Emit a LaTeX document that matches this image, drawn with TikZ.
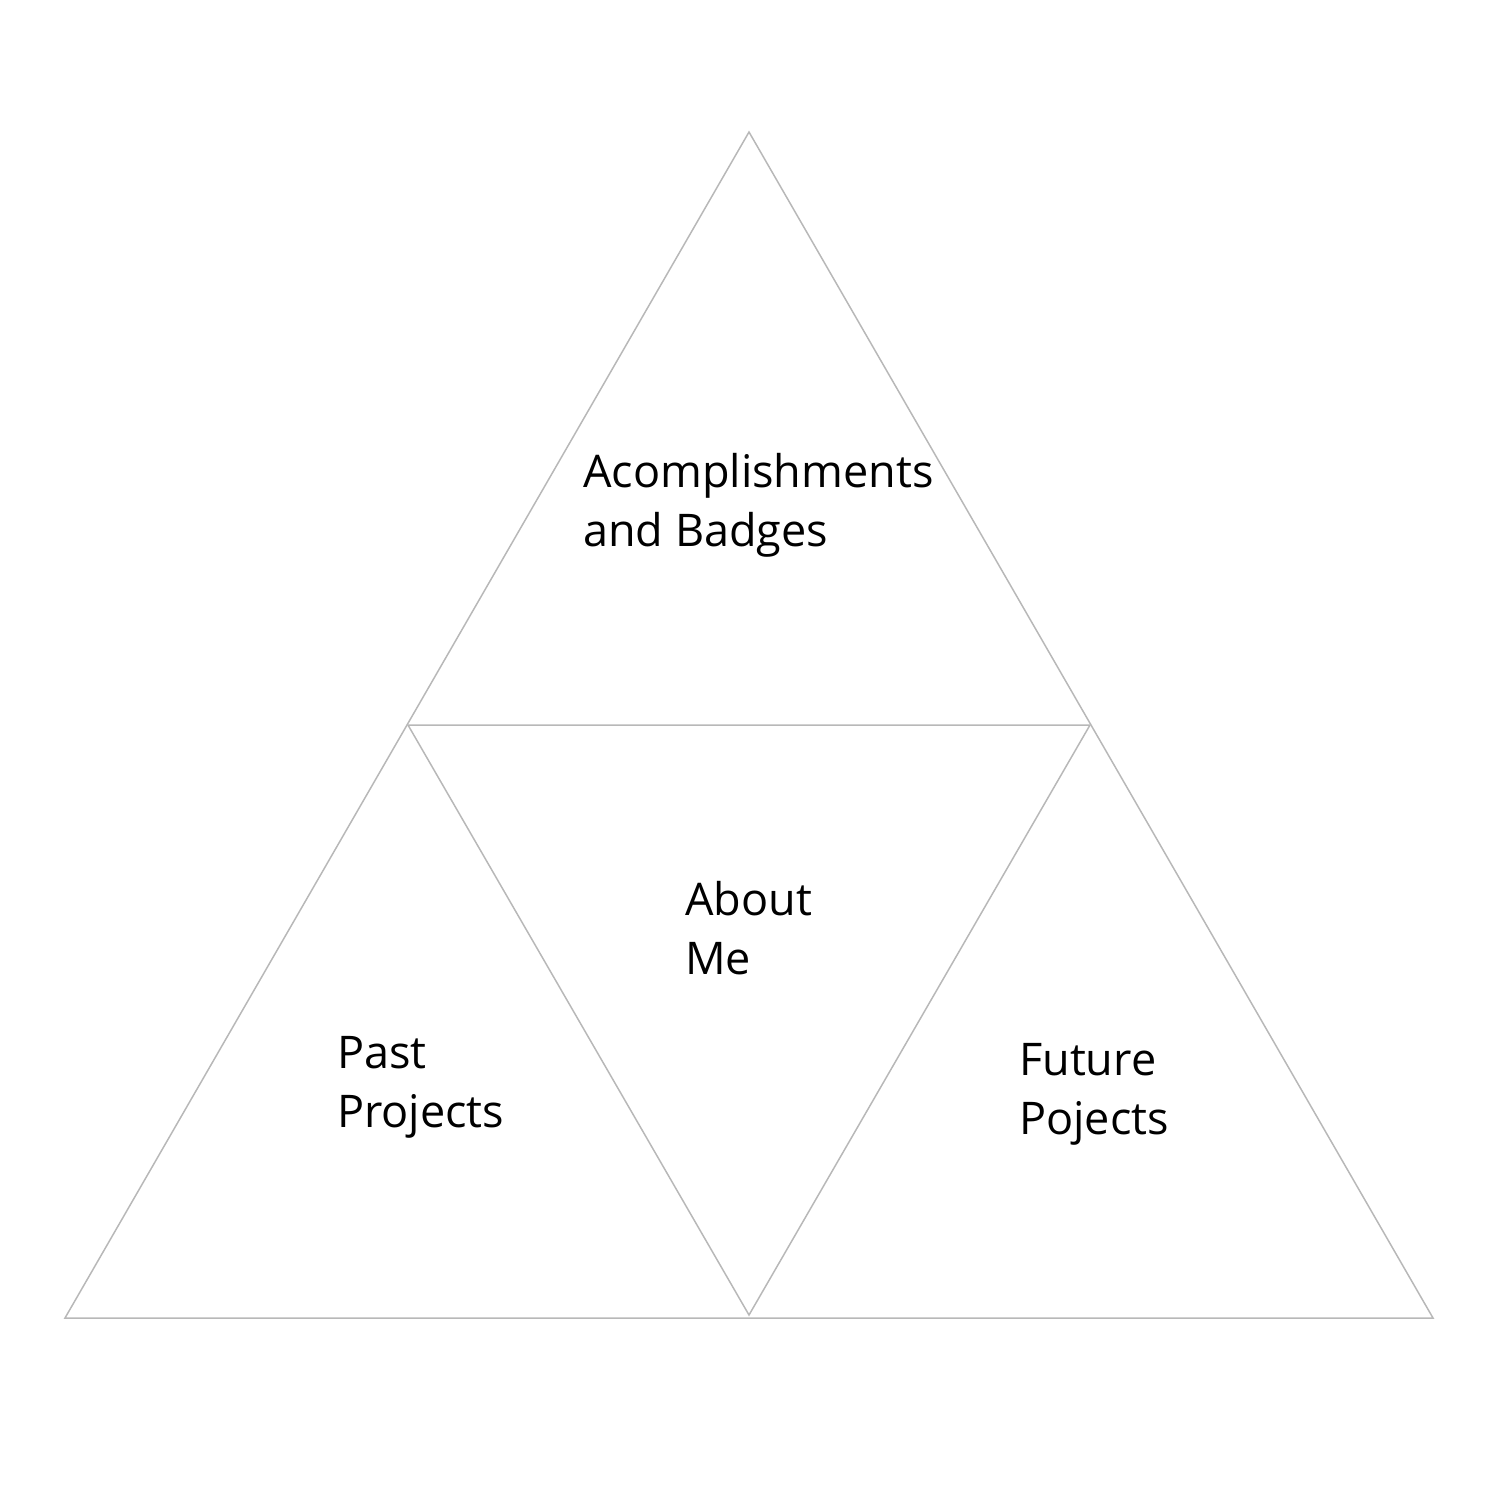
\documentclass[tikz,border=0pt]{standalone}
\usepackage{fontspec}
\setmainfont{Open Sans}
\begin{document}
\begin{tikzpicture}[x=1pt,y=-1pt,
  edge/.style={draw=black!28,line width=1.5pt,line join=miter},
  label/.style={anchor=base west,align=left,inner sep=0pt,font=\fontsize{45}{59}\selectfont}]
\useasboundingbox (0,0) rectangle (1500,1500);
\coordinate (apex) at (749,132);
\coordinate (lm) at (408,725);
\coordinate (rm) at (1090,725);
\coordinate (bl) at (65,1318);
\coordinate (bm) at (749,1315);
\coordinate (br) at (1433,1318);
\draw[edge] (apex) -- (br) -- (bl) -- cycle;
\draw[edge] (lm) -- (rm) -- (bm) -- cycle;
\node[label] (acc) at (583,546) {Acomplishments\\and Badges};
\node[label] (about) at (685,974) {About\\Me};
\node[label] (past) at (337,1127) {Past\\Projects};
\node[label] (future) at (1019,1134) {Future\\Pojects};
\end{tikzpicture}
\end{document}
